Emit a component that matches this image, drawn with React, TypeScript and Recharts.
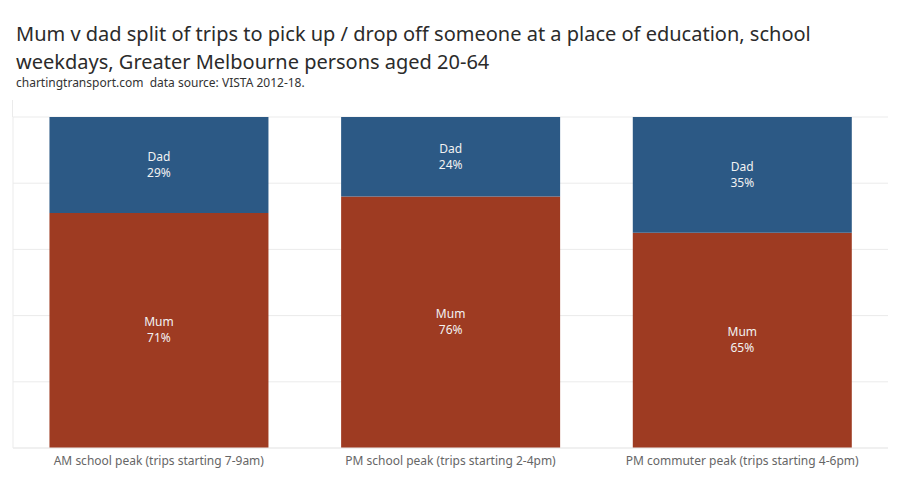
import { BarChart, Bar, XAxis, YAxis, CartesianGrid, LabelList } from "recharts";

// Share of pick-up / drop-off trips by parent, school weekdays
const periods = [
  "AM school peak (trips starting 7-9am)",
  "PM school peak (trips starting 2-4pm)",
  "PM commuter peak (trips starting 4-6pm)",
];
const mumShare = [71, 76, 65];
const dadShare = [29, 24, 35];
const gridTicks = [0, 20, 40, 60, 80, 100];

const data = periods.map((period, i) => ({ period, Mum: mumShare[i], Dad: dadShare[i] }));

function SegmentLabel(props: any) {
  const { x, y, width, height, value, name } = props;
  const cx = x + width / 2;
  const cy = y + height / 2;
  return (
    <text x={cx} y={cy} textAnchor="middle" fill="#f2f2f2" fontSize={12} fontFamily="Noto Sans, sans-serif">
      <tspan x={cx} dy={-4}>{name}</tspan>
      <tspan x={cx} dy={16}>{value}%</tspan>
    </text>
  );
}

export default function App() {
  return (
    <div style={{ position: "relative", width: 900, height: 500, margin: -8, background: "#fff", fontFamily: "Noto Sans, sans-serif" }}>
      <div style={{ position: "absolute", left: 16, top: 20, fontSize: 20, lineHeight: "28px", color: "#2b2b2b", width: 860 }}>
        Mum v dad split of trips to pick up / drop off someone at a place of education, school weekdays, Greater Melbourne persons aged 20-64
      </div>
      <div style={{ position: "absolute", left: 16, top: 74, fontSize: 12, color: "#333" }}>
        chartingtransport.com&nbsp; data source: VISTA 2012-18.
      </div>
      {/* faint left edge of the pane, running above the top gridline as in the original */}
      <div style={{ position: "absolute", left: 12, top: 100, width: 1, height: 17, background: "#ebebeb" }} />
      <div style={{ position: "absolute", left: 0, top: 0 }}>
        <BarChart width={900} height={500} data={data} margin={{ top: 117, right: 12, left: 12, bottom: 22 }} barCategoryGap="12.5%">
          <CartesianGrid vertical={false} stroke="#ebebeb" />
          <XAxis
            dataKey="period"
            height={30}
            tickLine={false}
            axisLine={{ stroke: "#ebebeb" }}
            tick={{ fill: "#666", fontSize: 12, fontFamily: "Noto Sans, sans-serif" }}
          />
          <YAxis
            width={1}
            domain={[0, 100]}
            ticks={gridTicks}
            interval={0}
            tick={{ fill: "transparent", fontSize: 1 }}
            tickLine={false}
            axisLine={{ stroke: "#ebebeb" }}
          />
          <Bar dataKey="Mum" stackId="a" fill="#9e3b22" isAnimationActive={false}>
            <LabelList dataKey="Mum" content={(p: any) => <SegmentLabel {...p} name="Mum" />} />
          </Bar>
          <Bar dataKey="Dad" stackId="a" fill="#2c5985" isAnimationActive={false}>
            <LabelList dataKey="Dad" content={(p: any) => <SegmentLabel {...p} name="Dad" />} />
          </Bar>
        </BarChart>
      </div>
    </div>
  );
}
